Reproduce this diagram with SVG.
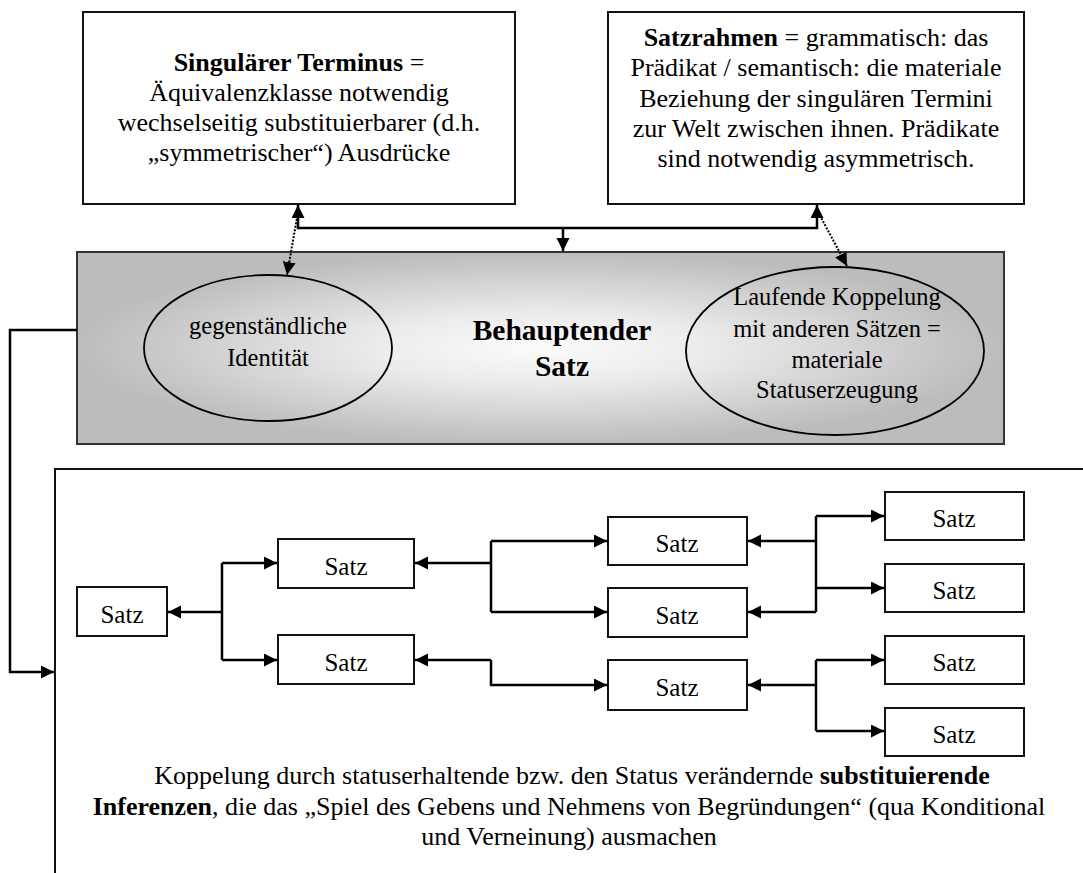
<svg xmlns="http://www.w3.org/2000/svg" width="1083" height="873" viewBox="0 0 1083 873" font-family="'Liberation Serif', Tinos, 'Times New Roman', Times, 'DejaVu Serif', serif">
<style>
  text { font-family: "Liberation Serif", Tinos, "Times New Roman", Times, "DejaVu Serif", serif; fill: #000; text-anchor: middle; }
  .t26 { font-size: 26px; }
  .t25 { font-size: 24.5px; }
  .satz { font-size: 25px; }
  .title { font-size: 29.5px; font-weight: bold; }
  .box { fill: #fff; stroke: #111; stroke-width: 2; }
  .ell { fill: none; stroke: #000; stroke-width: 1.8; }
  .con { fill: none; stroke: #000; stroke-width: 2.5; }
  .dot { fill: none; stroke: #000; stroke-width: 2; stroke-dasharray: 2 1.5; }
  .b { font-weight: bold; }
</style>
<defs>
  <marker id="ah" markerUnits="userSpaceOnUse" markerWidth="16" markerHeight="14" refX="13" refY="6.5" orient="auto-start-reverse" viewBox="0 0 16 14">
    <path d="M0,0 L13,6.5 L0,13 z" fill="#000"/>
  </marker>
  <radialGradient id="grayGrad" cx="0.5" cy="0.5" r="0.5">
    <stop offset="0" stop-color="#fbfbfb"/>
    <stop offset="0.35" stop-color="#ececec"/>
    <stop offset="0.65" stop-color="#d6d6d6"/>
    <stop offset="1" stop-color="#bcbcbc"/>
  </radialGradient>
</defs>

<g id="node-singularer-terminus">
  <rect class="box" x="83" y="12" width="432" height="192"/>
  <text class="t26" x="299" y="71"><tspan class="b">Singulärer Terminus</tspan> =</text>
  <text class="t26" x="299" y="101">Äquivalenzklasse notwendig</text>
  <text class="t26" x="299" y="131">wechselseitig substituierbarer (d.h.</text>
  <text class="t26" x="299" y="161">„symmetrischer“) Ausdrücke</text>
</g>

<g id="node-satzrahmen">
  <rect class="box" x="608" y="12" width="416" height="192"/>
  <text class="t26" x="816" y="46"><tspan class="b">Satzrahmen</tspan> = grammatisch: das</text>
  <text class="t26" x="816" y="76">Prädikat / semantisch: die materiale</text>
  <text class="t26" x="816" y="107">Beziehung der singulären Termini</text>
  <text class="t26" x="816" y="137">zur Welt zwischen ihnen. Prädikate</text>
  <text class="t26" x="816" y="167">sind notwendig asymmetrisch.</text>
</g>

<g id="node-behauptender-satz">
  <rect x="77" y="252" width="927" height="192" fill="url(#grayGrad)" stroke="#333" stroke-width="2"/>
  <text class="title" x="562" y="340">Behauptender</text>
  <text class="title" x="562" y="376">Satz</text>
</g>

<g id="node-identitaet">
  <ellipse class="ell" cx="268" cy="348" rx="124" ry="73"/>
  <text class="t25" x="268" y="334">gegenständliche</text>
  <text class="t25" x="268" y="366">Identität</text>
</g>

<g id="node-koppelung">
  <ellipse class="ell" cx="835" cy="351" rx="149" ry="84"/>
  <text class="t25" x="837" y="305">Laufende Koppelung</text>
  <text class="t25" x="837" y="337">mit anderen Sätzen =</text>
  <text class="t25" x="837" y="368">materiale</text>
  <text class="t25" x="837" y="398">Statuserzeugung</text>
</g>

<g id="node-inferenz-bereich">
  <rect x="55" y="469" width="1060" height="440" fill="#fff" stroke="#111" stroke-width="2"/>
  <text class="t26" x="572" y="784">Koppelung durch statuserhaltende bzw. den Status verändernde <tspan class="b">substituierende</tspan></text>
  <text class="t26" x="569" y="815"><tspan class="b">Inferenzen</tspan>, die das „Spiel des Gebens und Nehmens von Begründungen“ (qua Konditional</text>
  <text class="t26" x="569" y="845">und Verneinung) ausmachen</text>
</g>

<g id="node-satz-0"><rect class="box" x="77" y="587" width="90" height="49"/><text class="satz" x="122" y="622.5">Satz</text></g>
<g id="node-satz-1a"><rect class="box" x="278" y="539" width="136" height="49"/><text class="satz" x="346" y="574.5">Satz</text></g>
<g id="node-satz-1b"><rect class="box" x="278" y="635" width="136" height="49"/><text class="satz" x="346" y="670.5">Satz</text></g>
<g id="node-satz-2a"><rect class="box" x="608" y="517" width="139" height="48"/><text class="satz" x="677" y="552">Satz</text></g>
<g id="node-satz-2b"><rect class="box" x="608" y="588" width="139" height="49"/><text class="satz" x="677" y="623.5">Satz</text></g>
<g id="node-satz-2c"><rect class="box" x="608" y="660" width="139" height="50"/><text class="satz" x="677" y="696">Satz</text></g>
<g id="node-satz-3a"><rect class="box" x="885" y="492" width="139" height="48"/><text class="satz" x="954" y="527">Satz</text></g>
<g id="node-satz-3b"><rect class="box" x="885" y="564" width="139" height="48"/><text class="satz" x="954" y="599">Satz</text></g>
<g id="node-satz-3c"><rect class="box" x="885" y="636" width="139" height="48"/><text class="satz" x="954" y="671">Satz</text></g>
<g id="node-satz-3d"><rect class="box" x="885" y="708" width="139" height="48"/><text class="satz" x="954" y="743">Satz</text></g>

<g id="connectors">
  <path class="con" d="M298,205 L298,228 L817,228 L817,205" marker-start="url(#ah)" marker-end="url(#ah)"/>
  <path class="con" d="M563,228 L563,251" marker-end="url(#ah)"/>
  <path class="dot" d="M298,212 L287,275" marker-end="url(#ah)"/>
  <path class="dot" d="M818,212 L847,266" marker-end="url(#ah)"/>
  <path class="con" d="M77,330 L10,330 L10,672 L54,672" marker-end="url(#ah)"/>
  <path class="con" d="M222,612 L168,612" marker-end="url(#ah)"/>
  <path class="con" d="M222,563 L222,660"/>
  <path class="con" d="M222,563 L277,563" marker-end="url(#ah)"/>
  <path class="con" d="M222,660 L277,660" marker-end="url(#ah)"/>
  <path class="con" d="M491,563 L415,563" marker-end="url(#ah)"/>
  <path class="con" d="M491,541 L491,612"/>
  <path class="con" d="M491,541 L607,541" marker-end="url(#ah)"/>
  <path class="con" d="M491,612 L607,612" marker-end="url(#ah)"/>
  <path class="con" d="M491,660 L415,660" marker-end="url(#ah)"/>
  <path class="con" d="M491,660 L491,685 L607,685" marker-end="url(#ah)"/>
  <path class="con" d="M816,541 L748,541" marker-end="url(#ah)"/>
  <path class="con" d="M816,612 L748,612" marker-end="url(#ah)"/>
  <path class="con" d="M816,516 L816,612"/>
  <path class="con" d="M816,516 L884,516" marker-end="url(#ah)"/>
  <path class="con" d="M816,588 L884,588" marker-end="url(#ah)"/>
  <path class="con" d="M816,685 L748,685" marker-end="url(#ah)"/>
  <path class="con" d="M816,660 L816,731"/>
  <path class="con" d="M816,660 L884,660" marker-end="url(#ah)"/>
  <path class="con" d="M816,731 L884,731" marker-end="url(#ah)"/>
</g>
</svg>
